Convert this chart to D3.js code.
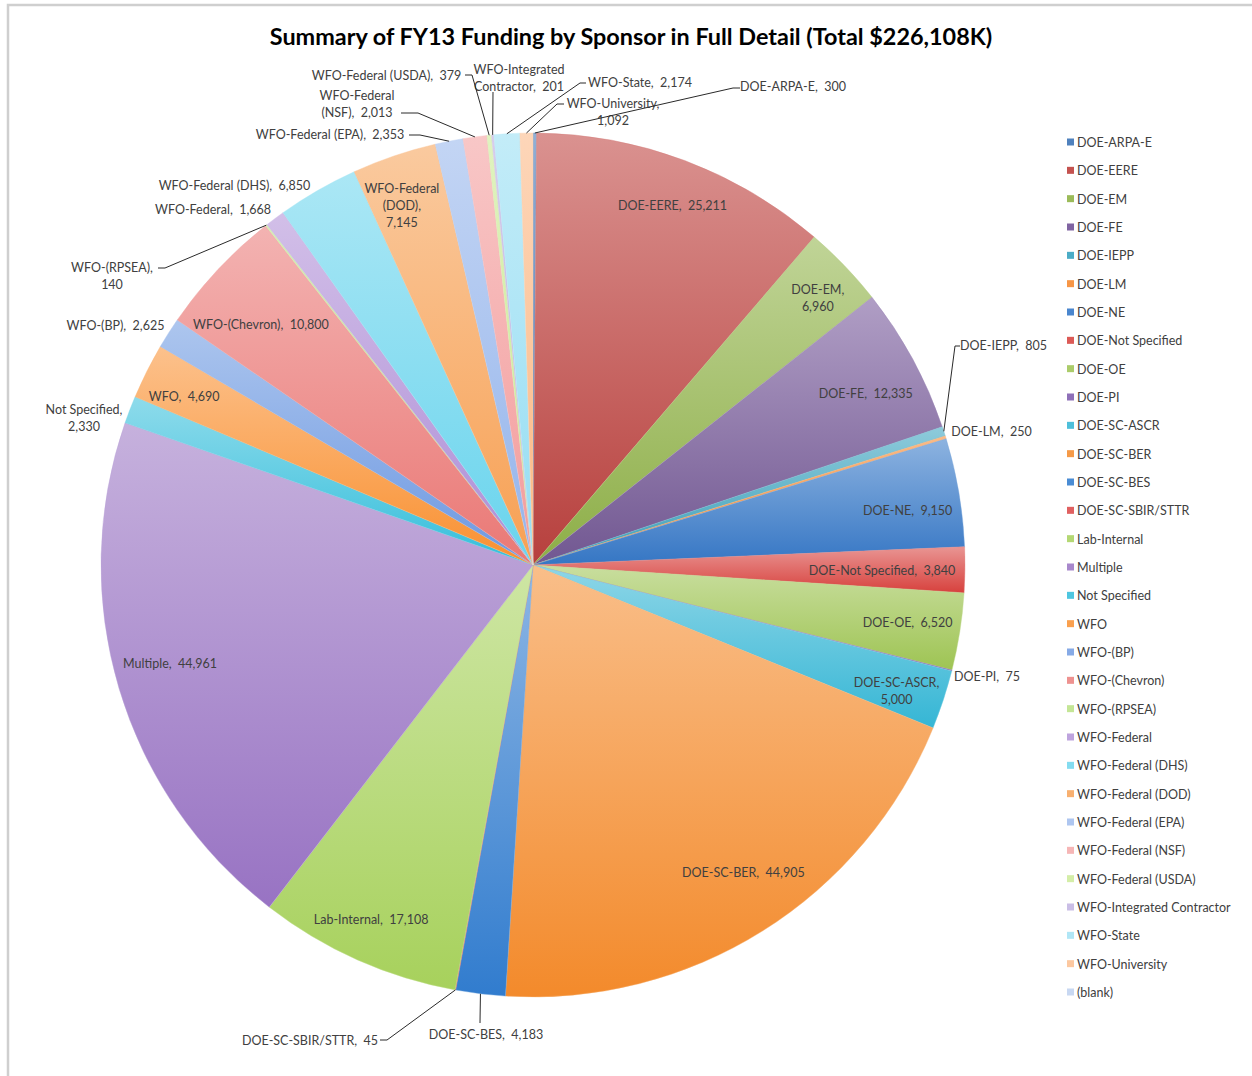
<!DOCTYPE html>
<html>
<head>
<meta charset="utf-8">
<script src="https://cdn.jsdelivr.net/npm/d3@7"></script>
<style>
  html, body { margin: 0; padding: 0; background: #fff; }
  svg { display: block; }
  text { font-family: Lato, "Open Sans", sans-serif; }
</style>
</head>
<body>
<svg id="chart" width="1252" height="1076"></svg>
<script>
// Sponsors, in the order they are stacked around the pie (clockwise from 12 o'clock)
const categories = [
  "DOE-ARPA-E", "DOE-EERE", "DOE-EM", "DOE-FE", "DOE-IEPP", "DOE-LM", "DOE-NE",
  "DOE-Not Specified", "DOE-OE", "DOE-PI", "DOE-SC-ASCR", "DOE-SC-BER", "DOE-SC-BES",
  "DOE-SC-SBIR/STTR", "Lab-Internal", "Multiple", "Not Specified", "WFO", "WFO-(BP)",
  "WFO-(Chevron)", "WFO-(RPSEA)", "WFO-Federal", "WFO-Federal (DHS)", "WFO-Federal (DOD)",
  "WFO-Federal (EPA)", "WFO-Federal (NSF)", "WFO-Federal (USDA)", "WFO-Integrated Contractor",
  "WFO-State", "WFO-University", "(blank)"
];

// FY13 funding, $K
const values = [
  300, 25211, 6960, 12335, 805, 250, 9150,
  3840, 6520, 75, 5000, 44905, 4183,
  45, 17108, 44961, 2330, 4690, 2625,
  10800, 140, 1668, 6850, 7145,
  2353, 2013, 379, 201,
  2174, 1092, null
];

const titleText = "Summary of FY13 Funding by Sponsor in Full Detail (Total $226,108K)";

// Fill palette (one per sponsor)
const palette = [
  "#4f81bd", "#c4524f", "#9bbb59", "#8064a2", "#4bacc6", "#f79646", "#4a86ce",
  "#dc5a56", "#abcc6a", "#8e70b8", "#4ebfda", "#f59a48", "#4a8cd4",
  "#e06060", "#b4d874", "#a888cc", "#4ec6e0", "#faa04e", "#86aae6",
  "#ee9290", "#c4e696", "#bea4de", "#84dcf0", "#f8b070",
  "#aec6f0", "#f6b6b6", "#d4eea8", "#cabee6",
  "#b0e6f6", "#fcc8a0", "#c8d8f2"
];

const fmt = d3.format(",");
const svg = d3.select("#chart");

// frame
svg.append("path")
  .attr("d", "M8,1076 L8,5 L1252,5")
  .attr("fill", "none")
  .attr("stroke", "#cfcfcf")
  .attr("stroke-width", 2.5);

svg.append("text")
  .attr("x", 631).attr("y", 45)
  .attr("text-anchor", "middle")
  .attr("font-size", 23.4)
  .attr("font-weight", "bold")
  .attr("fill", "#000")
  .text(titleText);

const cx = 533, cy = 565, R = 432;
const rows = categories.map((c, i) => ({ name: c, value: values[i], i }));

const pie = d3.pie().sort(null).value(d => d.value || 0)
  .startAngle(0).endAngle(2 * Math.PI);
const arcs = pie(rows);
const arc = d3.arc().innerRadius(0).outerRadius(R);

// vertical light-to-dark gradient per slice (lightness shifted, hue and saturation kept)
function lighten(c, k) {
  const h = d3.hsl(c);
  h.l = h.l + (0.92 - h.l) * k;
  return h.formatHex();
}
function darken(c, dl) {
  const h = d3.hsl(c);
  h.l = Math.max(0, h.l - dl);
  return h.formatHex();
}
const defs = svg.append("defs");
arcs.forEach(a => {
  const base = palette[a.data.i];
  const g = defs.append("linearGradient")
    .attr("id", "g" + a.data.i)
    .attr("x1", 0).attr("y1", 0).attr("x2", 0).attr("y2", 1);
  g.append("stop").attr("offset", 0).attr("stop-color", lighten(base, 0.45));
  g.append("stop").attr("offset", 1).attr("stop-color", darken(base, 0.06));
});

const pieG = svg.append("g").attr("transform", `translate(${cx},${cy})`);
pieG.selectAll("path.slice")
  .data(arcs.filter(a => a.value > 0))
  .join("path")
  .attr("class", "slice")
  .attr("d", arc)
  .attr("fill", a => `url(#g${a.data.i})`)
  .attr("stroke", a => lighten(palette[a.data.i], 0.3))
  .attr("stroke-width", 0.4);

// label placement: inside labels sit near the slice's mid-angle (offset a, degrees)
// at a fraction r of the radius; outside labels are anchored at a point and joined
// to the rim by a leader
const inside = {
  "DOE-EERE": { r: 0.895, a: 0.6, lines: 1 },
  "DOE-EM": { r: 0.905, a: 0.6, lines: 2 },
  "DOE-FE": { r: 0.868, a: 1.0, lines: 1 },
  "DOE-NE": { r: 0.877, a: 1.2, lines: 1 },
  "DOE-Not Specified": { r: 0.808, a: 0.1, lines: 1 },
  "DOE-OE": { r: 0.877, a: -0.3, lines: 1 },
  "DOE-SC-ASCR": { r: 0.89, a: 0.8, lines: 2 },
  "DOE-SC-BER": { r: 0.86, a: -2.4, lines: 1 },
  "Lab-Internal": { r: 0.90, a: 0.6, lines: 1 },
  "Multiple": { r: 0.87, a: 1.5, lines: 1 },
  "WFO": { r: 0.898, a: -0.7, lines: 1 },
  "WFO-(Chevron)": { r: 0.843, a: -1.5, lines: 1 },
  "WFO-Federal (DOD)": { r: 0.889, a: -1.2, lines: 3 }
};

const outside = {
  "DOE-ARPA-E": { x: 793, y: 85, lines: 1, leader: [[733, 88], [740, 88]] },
  "WFO-University": { x: 613, y: 102, lines: 2, leader: [[557, 104], [564, 104]] },
  "WFO-State": { x: 640, y: 81, lines: 1, leader: [[580, 83], [586, 83]] },
  "WFO-Integrated Contractor": { x: 519, y: 68, lines: 2, leader: [[493, 92]] },
  "WFO-Federal (USDA)": { x: 386.5, y: 74, lines: 1, leader: [[472, 75], [465, 75]] },
  "WFO-Federal (NSF)": { x: 357, y: 94, lines: 2, leader: [[418, 113], [401, 113]] },
  "WFO-Federal (EPA)": { x: 330, y: 133, lines: 1, leader: [[420, 135], [409, 135]] },
  "WFO-Federal (DHS)": { x: 234.5, y: 184, lines: 1 },
  "WFO-Federal": { x: 213, y: 208, lines: 1 },
  "WFO-(RPSEA)": { x: 112, y: 266, lines: 2, leader: [[165, 268], [158, 268]] },
  "WFO-(BP)": { x: 115.5, y: 324, lines: 1 },
  "Not Specified": { x: 84, y: 408, lines: 2 },
  "DOE-SC-SBIR/STTR": { x: 310, y: 1039, lines: 1, leader: [[387, 1040], [380, 1040]] },
  "DOE-SC-BES": { x: 486, y: 1033, lines: 1, leader: [[480, 1023]] },
  "DOE-IEPP": { x: 1003.5, y: 344, lines: 1, leader: [[955, 346], [960, 346]] },
  "DOE-LM": { x: 991.5, y: 430, lines: 1 },
  "DOE-PI": { x: 987, y: 675, lines: 1 }
};

function labelLines(name, value, n) {
  const v = fmt(value);
  if (n === 1) return [name + ",  " + v];
  if (name === "WFO-Federal (DOD)") return ["WFO-Federal", "(DOD),", v];
  if (name === "WFO-Integrated Contractor") return ["WFO-Integrated", "Contractor,  " + v];
  if (name === "WFO-Federal (NSF)") return ["WFO-Federal", "(NSF),  " + v];
  return [name + ",", v];
}

const labelG = svg.append("g");
const leaderG = svg.append("g");
const lineH = 17;

function drawText(x, yTop, lines) {
  const t = labelG.append("text")
    .attr("text-anchor", "middle")
    .attr("font-size", 12.5)
    .attr("fill", "#404040")
    .style("white-space", "pre");
  lines.forEach((l, k) => {
    t.append("tspan").attr("x", x).attr("y", yTop + k * lineH).attr("dy", "0.45em").text(l);
  });
}

const deg = Math.PI / 180;
arcs.forEach(a => {
  const name = a.data.name;
  const mid = (a.startAngle + a.endAngle) / 2;
  if (inside[name]) {
    const p = inside[name];
    const rr = p.r * R;
    const ang = mid + p.a * deg;
    const x = cx + rr * Math.sin(ang);
    const y = cy - rr * Math.cos(ang);
    const lines = labelLines(name, a.value, p.lines);
    drawText(x, y - (lines.length - 1) * lineH / 2, lines);
  } else if (outside[name]) {
    const p = outside[name];
    const lines = labelLines(name, a.value, p.lines);
    drawText(p.x, p.y, lines);
    if (p.leader) {
      const rim = [cx + R * Math.sin(mid), cy - R * Math.cos(mid)];
      leaderG.append("path")
        .attr("d", d3.line()([rim, ...p.leader]))
        .attr("fill", "none")
        .attr("stroke", "#2a2a2a")
        .attr("stroke-width", 1);
    }
  }
});

// legend
const legY = d3.scalePoint().domain(categories).range([142, 992]);
const leg = svg.append("g").selectAll("g").data(categories).join("g")
  .attr("transform", d => `translate(1067,${legY(d)})`);
leg.append("rect")
  .attr("x", 0).attr("y", -3.5).attr("width", 7).attr("height", 7)
  .attr("fill", (d, i) => palette[i]);
leg.append("text")
  .attr("x", 10).attr("y", 0).attr("dy", "0.4em")
  .attr("font-size", 12.5)
  .attr("fill", "#404040")
  .text(d => d);
</script>
</body>
</html>
